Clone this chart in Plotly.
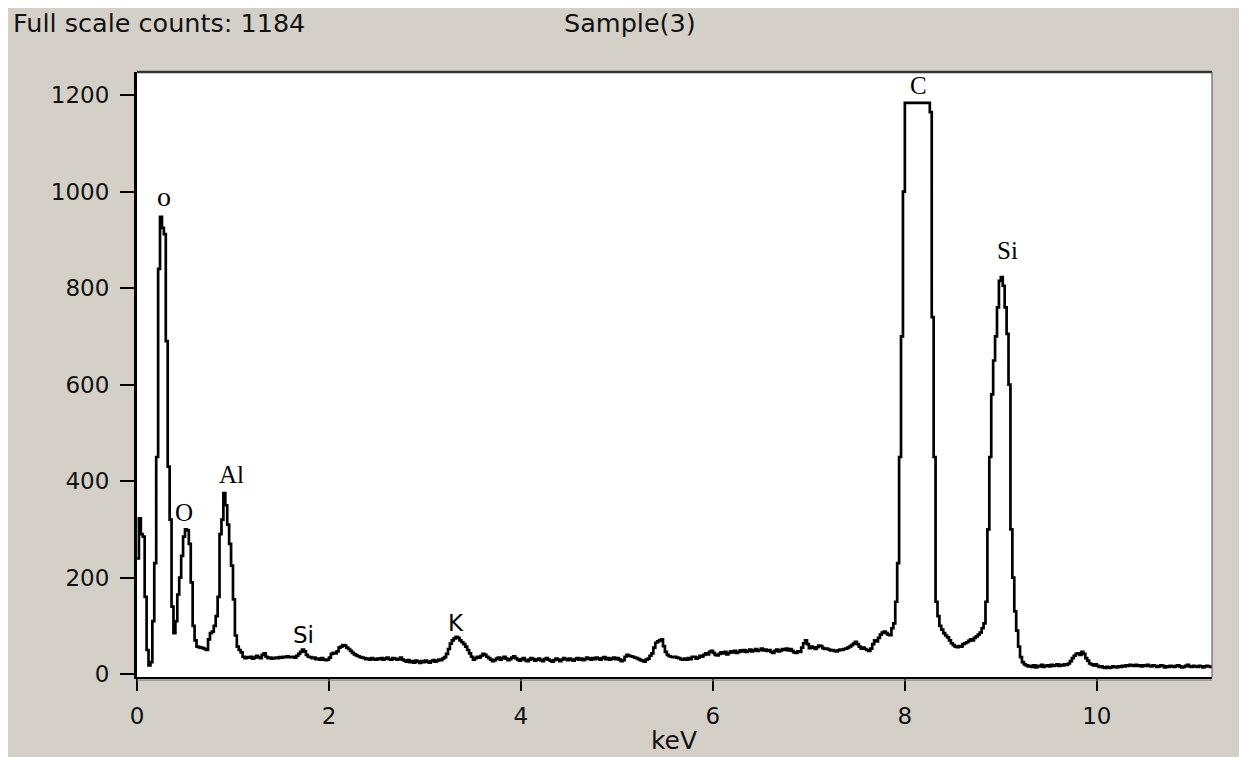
import plotly.graph_objects as go

# ---- data (counts per 0.02 keV channel) ----
channel_width_kev = 0.02
counts = [
    240, 323, 290, 285, 160, 50, 18, 25, 110, 230,
    450, 840, 948, 925, 912, 690, 430, 320, 140, 85,
    110, 165, 200, 245, 285, 300, 298, 270, 190, 100,
    70, 57, 56, 55, 54, 52, 50, 72, 85, 88,
    100, 120, 160, 290, 320, 375, 350, 310, 270, 225,
    155, 80, 57, 50, 45, 36, 33, 35, 34, 36,
    32, 34, 38, 35, 33, 40, 43, 36, 33, 34,
    32, 33, 34, 33, 35, 34, 36, 35, 37, 35,
    35, 36, 34, 38, 42, 46, 51, 47, 40, 36,
    35, 33, 34, 31, 32, 30, 33, 30, 29, 30,
    34, 42, 44, 43, 47, 55, 57, 60, 59, 55,
    52, 48, 44, 41, 39, 37, 35, 34, 33, 31,
    32, 30, 33, 31, 30, 32, 31, 33, 30, 32,
    34, 31, 30, 33, 32, 30, 31, 34, 30, 28,
    26, 29, 25, 27, 24, 28, 26, 23, 27, 25,
    28, 26, 24, 27, 29, 26, 28, 30, 29, 32,
    35, 42, 52, 63, 70, 74, 77, 75, 70, 66,
    62, 57, 50, 43, 36, 30, 33, 36, 34, 38,
    42, 40, 36, 33, 30, 27, 29, 32, 34, 30,
    33, 36, 32, 29, 31, 34, 37, 33, 30, 28,
    31, 33, 29, 27, 30, 33, 31, 28, 30, 32,
    29, 27, 31, 33, 30, 28, 26, 29, 32, 30,
    27, 30, 33, 31, 29, 32, 30, 28, 31, 33,
    30, 32, 29, 31, 34, 32, 30, 33, 31, 34,
    32, 30, 33, 35, 31, 33, 30, 32, 34, 31,
    33, 30, 27, 29, 36, 40, 38, 37, 36, 34,
    33, 31, 29, 28, 26, 30, 32, 38, 43, 55,
    65, 68, 70, 72, 58, 46, 40, 37, 36, 35,
    36, 34, 33, 31, 30, 32, 30, 33, 31, 36,
    36, 32, 34, 38, 36, 40, 43, 41, 46, 48,
    44, 40, 39, 42, 45, 43, 46, 41, 44, 47,
    45, 48, 44, 46, 49, 47, 50, 46, 48, 51,
    47, 49, 52, 48, 50, 53, 49, 51, 48, 50,
    46, 44, 48, 51, 47, 49, 52, 50, 53, 49,
    52, 48, 45, 44, 47, 46, 55, 64, 70, 62,
    54, 57, 55, 52, 56, 59, 58, 54, 52, 53,
    51, 49, 50, 48, 47, 49, 51, 50, 52, 53,
    55, 57, 60, 63, 67, 62, 57, 53, 55, 52,
    50, 48, 53, 62, 70, 68, 75, 82, 86, 88,
    85, 82, 81, 95, 105, 150, 230, 450, 700, 1000,
    1184, 1184, 1184, 1184, 1184, 1184, 1184, 1184, 1184, 1184,
    1184, 1184, 1184, 1165, 740, 450, 150, 120, 100, 92,
    85, 80, 76, 70, 64, 60, 57, 56, 58, 57,
    62, 64, 66, 69, 72, 70, 75, 78, 82, 86,
    95, 105, 150, 300, 450, 580, 650, 700, 760, 815,
    823, 805, 760, 705, 600, 300, 200, 130, 90, 57,
    35, 25, 20, 18, 16, 17, 15, 18, 14, 17,
    16, 19, 15, 17, 18, 16, 19, 17, 18, 20,
    17, 19, 18, 20, 19, 22, 27, 33, 38, 42,
    43, 40, 46, 42, 33, 28, 22, 20, 18, 20,
    17, 15, 16, 14, 13, 15, 13, 14, 16, 15,
    14, 16, 15, 17, 16, 18, 17, 19, 18, 17,
    19, 17, 18, 16, 18, 17, 19, 17, 16, 18,
    17, 15, 16, 18, 17, 14, 16, 15, 17, 16,
    15, 17, 18, 16, 14, 15, 17, 19, 16, 15,
    17, 16, 15, 17, 16, 14, 16, 17, 16, 15,
    16,
]
energy_kev = [round(i * channel_width_kev, 2) for i in range(len(counts))]

x_tick_values = [0, 2, 4, 6, 8, 10]
y_tick_values = [0, 200, 400, 600, 800, 1000, 1200]

peak_labels = ["o", "O", "Al", "Si", "K", "C", "Si"]
peak_label_kev = [0.28, 0.49, 0.98, 1.73, 3.32, 8.14, 9.07]
peak_label_counts = [990, 336, 414, 82, 106, 1219, 879]
peak_label_serif = [True, True, True, False, False, True, True]

full_scale_counts = 1184
sample_name = "Sample(3)"

# ---- figure (page body has an 8 px margin, so the figure is 8 px smaller) ----
OFF = 8
W, H = 1247 - OFF, 757 - OFF
L, R, T, B = 137 - OFF, 35, 72 - OFF, 80
plot_w = W - L - R
plot_h = H - T - B

def px_x(px):  # page pixel -> paper coordinate
    return (px - OFF - L) / plot_w

def px_y(py):
    return (H - B - (py - OFF)) / plot_h

fig = go.Figure()
fig.add_trace(go.Scatter(
    x=energy_kev, y=counts, mode="lines",
    line=dict(color="black", width=2.7, shape="hv"),
    hoverinfo="skip", showlegend=False,
))

annotations = []
for t, xk, yc, serif in zip(peak_labels, peak_label_kev, peak_label_counts, peak_label_serif):
    annotations.append(dict(
        x=xk, y=yc, xref="x", yref="y", text=t, showarrow=False,
        xanchor="center", yanchor="middle",
        font=dict(family="Liberation Serif" if serif else "DejaVu Sans",
                  size=(28 if t == "o" else 25) if serif else 23, color="black"),
    ))

annotations += [
    dict(x=px_x(11), y=px_y(23), xref="paper", yref="paper",
         text=f"Full scale counts: {full_scale_counts}", showarrow=False,
         xanchor="left", yanchor="middle",
         font=dict(family="DejaVu Sans", size=25.5, color="#111")),
    dict(x=px_x(630), y=px_y(23), xref="paper", yref="paper",
         text=sample_name, showarrow=False, xanchor="center", yanchor="middle",
         font=dict(family="DejaVu Sans", size=25.5, color="#111")),
    dict(x=px_x(674), y=px_y(740), xref="paper", yref="paper",
         text="keV", showarrow=False, xanchor="center", yanchor="middle",
         font=dict(family="DejaVu Sans", size=25, color="#111")),
]

shapes = [
    # top border
    dict(type="line", xref="paper", yref="paper", x0=0, x1=1, y0=1, y1=1,
         line=dict(color="#333333", width=2.5)),
    # right border
    dict(type="line", xref="paper", yref="paper", x0=1, x1=1, y0=0, y1=1,
         line=dict(color="#666666", width=1.2)),
    # second (grey) line of the bottom double border
    dict(type="line", xref="paper", yref="paper", x0=0, x1=1,
         y0=-3.2 / plot_h, y1=-3.2 / plot_h,
         line=dict(color="#8a8a8a", width=1.2)),
]

fig.update_layout(
    width=W, height=H, autosize=False,
    margin=dict(l=L, r=R, t=T, b=B, pad=0),
    paper_bgcolor="#D4D0C8", plot_bgcolor="white",
    showlegend=False,
    annotations=annotations, shapes=shapes,
    xaxis=dict(
        range=[0, 11.2], tickvals=x_tick_values,
        ticktext=[str(v) for v in x_tick_values],
        ticks="outside", ticklen=12, tickwidth=1.5, tickcolor="black",
        showline=True, linecolor="black", linewidth=2.2,
        showgrid=False, zeroline=False,
        tickfont=dict(family="DejaVu Sans", size=23, color="#111"),
        ticklabelstandoff=5, fixedrange=True,
    ),
    yaxis=dict(
        range=[-6, 1248], tickvals=y_tick_values,
        ticktext=[str(v) for v in y_tick_values],
        ticks="outside", ticklen=14, tickwidth=1.8, tickcolor="black",
        showline=True, linecolor="black", linewidth=3,
        showgrid=False, zeroline=False,
        tickfont=dict(family="DejaVu Sans", size=23, color="#111"),
        ticklabelstandoff=6, fixedrange=True,
    ),
)

fig.write_html("out.html")
